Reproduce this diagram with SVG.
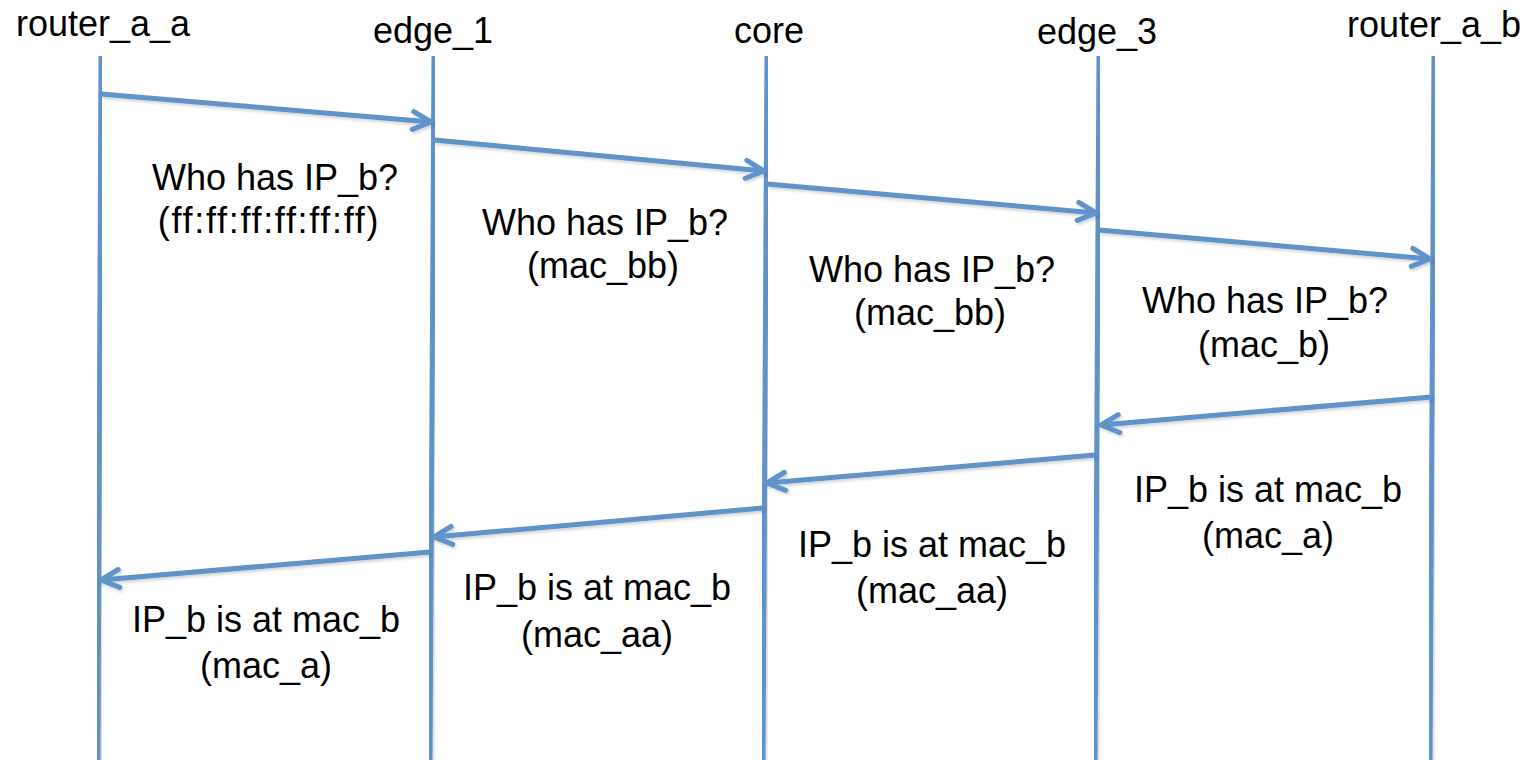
<svg xmlns="http://www.w3.org/2000/svg" width="1534" height="760" viewBox="0 0 1534 760">
<style>
  .ll { stroke:#5e93ca; stroke-width:5; fill:none; }
  .msg { stroke:#5e93ca; stroke-width:5; fill:none; marker-end:url(#ah); }
  .t { font-family:"Liberation Sans", Arial, sans-serif; font-size:36px; fill:#000; text-anchor:middle; }
</style>
<defs>
  <filter id="sh" x="-5%" y="-5%" width="110%" height="110%">
    <feDropShadow dx="1.5" dy="2" stdDeviation="1.5" flood-color="#000" flood-opacity="0.18"/>
  </filter>
  <marker id="ah" viewBox="-22 -12 26 24" markerWidth="26" markerHeight="24" refX="0" refY="0" orient="auto" markerUnits="userSpaceOnUse">
    <path d="M-18,-9 L0,0 L-18,9" fill="none" stroke="#5e93ca" stroke-width="5" stroke-linecap="round" stroke-linejoin="round"/>
  </marker>
</defs>
<rect width="1534" height="760" fill="#fff"/>

<g id="router_a_a">
  <text class="t" x="103" y="36">router_a_a</text>
  <line class="ll" x1="101" y1="56" x2="98" y2="760" filter="url(#sh)"/>
</g>
<g id="edge_1">
  <text class="t" x="433" y="43">edge_1</text>
  <line class="ll" x1="434" y1="56" x2="430" y2="760" filter="url(#sh)"/>
</g>
<g id="core">
  <text class="t" x="769" y="43">core</text>
  <line class="ll" x1="767" y1="56" x2="763" y2="760" filter="url(#sh)"/>
</g>
<g id="edge_3">
  <text class="t" x="1097" y="44">edge_3</text>
  <line class="ll" x1="1099" y1="56" x2="1095" y2="760" filter="url(#sh)"/>
</g>
<g id="router_a_b">
  <text class="t" x="1434" y="37">router_a_b</text>
  <line class="ll" x1="1434" y1="56" x2="1430" y2="760" filter="url(#sh)"/>
</g>

<g id="connectors" filter="url(#sh)">
  <line class="msg" x1="101" y1="94" x2="431" y2="122"/>
  <line class="msg" x1="434" y1="140" x2="764" y2="171"/>
  <line class="msg" x1="767" y1="184" x2="1096" y2="213"/>
  <line class="msg" x1="1099" y1="230" x2="1430" y2="259"/>
  <line class="msg" x1="1432" y1="397" x2="1101" y2="425"/>
  <line class="msg" x1="1095" y1="455" x2="767" y2="483"/>
  <line class="msg" x1="763" y1="508" x2="434" y2="537"/>
  <line class="msg" x1="430" y1="552" x2="101" y2="580"/>
</g>

<g id="labels">
  <text class="t" x="275" y="190">Who has IP_b?</text>
  <text class="t" x="269" y="233" letter-spacing="1.7">(ff:ff:ff:ff:ff:ff)</text>
  <text class="t" x="605" y="235">Who has IP_b?</text>
  <text class="t" x="603" y="278">(mac_bb)</text>
  <text class="t" x="932" y="282">Who has IP_b?</text>
  <text class="t" x="930" y="325">(mac_bb)</text>
  <text class="t" x="1265" y="313">Who has IP_b?</text>
  <text class="t" x="1264" y="357">(mac_b)</text>
  <text class="t" x="1268" y="502">IP_b is at mac_b</text>
  <text class="t" x="1268" y="548">(mac_a)</text>
  <text class="t" x="932" y="557">IP_b is at mac_b</text>
  <text class="t" x="932" y="603">(mac_aa)</text>
  <text class="t" x="597" y="600">IP_b is at mac_b</text>
  <text class="t" x="597" y="647">(mac_aa)</text>
  <text class="t" x="266" y="632">IP_b is at mac_b</text>
  <text class="t" x="266" y="678">(mac_a)</text>
</g>
</svg>
